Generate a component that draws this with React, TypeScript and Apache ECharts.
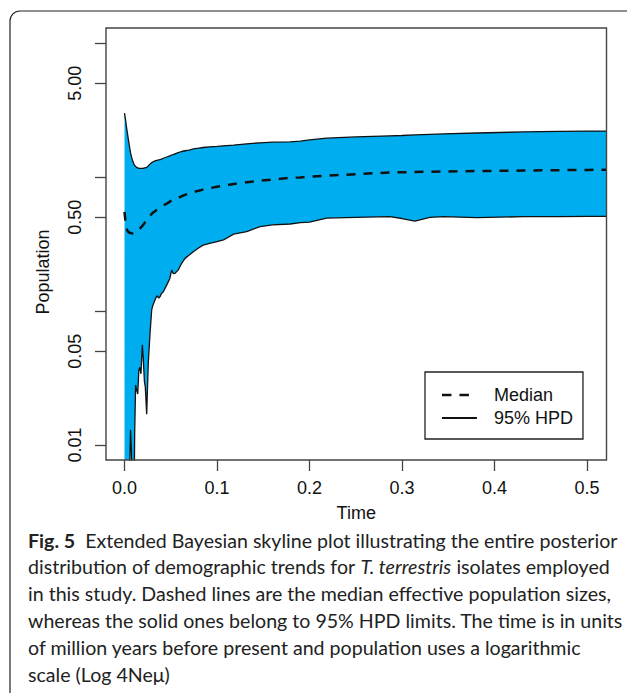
import React, { useEffect, useRef } from "react";
import * as echarts from "echarts";

const time = [
  0.0, 0.001, 0.002, 0.003, 0.004, 0.005, 0.0065, 0.0075, 0.0085, 0.01, 0.011, 0.012, 0.013, 0.0143,
  0.0155, 0.0165, 0.0178, 0.0193, 0.0203, 0.0215, 0.0225, 0.024, 0.0257, 0.0276, 0.0294, 0.031, 0.033,
  0.035, 0.037, 0.0384, 0.04, 0.042, 0.0456, 0.049, 0.051, 0.0528, 0.0546, 0.058, 0.0618, 0.0654, 0.07,
  0.0744, 0.08, 0.085, 0.092, 0.1, 0.107, 0.118, 0.132, 0.1465, 0.16, 0.179, 0.19, 0.2, 0.2186, 0.25,
  0.287, 0.3, 0.314, 0.33, 0.345, 0.381, 0.431, 0.47, 0.5015, 0.5211,
];
const lowerHPD = [
  0.0004, 0.0006, 0.0009, 0.0012, 0.002, 0.004, 0.013, 0.009, 0.003, 0.002, 0.012, 0.028, 0.026, 0.024,
  0.036, 0.038, 0.034, 0.056, 0.044, 0.03, 0.027, 0.017, 0.041, 0.068, 0.102, 0.112, 0.121,
  0.13, 0.125, 0.128, 0.135, 0.139, 0.156, 0.175, 0.202, 0.19, 0.191, 0.202, 0.227, 0.247, 0.262,
  0.277, 0.295, 0.31, 0.32, 0.33, 0.339, 0.375, 0.391, 0.426, 0.44, 0.446, 0.456, 0.461, 0.494, 0.5,
  0.506, 0.49, 0.469, 0.5, 0.506, 0.497, 0.506, 0.507, 0.508, 0.508,
];
const median = [
  0.55, 0.47, 0.42, 0.4, 0.39, 0.385, 0.382, 0.38, 0.379, 0.38, 0.383, 0.387, 0.392, 0.398,
  0.405, 0.411, 0.42, 0.432, 0.44, 0.452, 0.463, 0.477, 0.494, 0.512, 0.53, 0.544, 0.556,
  0.569, 0.582, 0.59, 0.6, 0.613, 0.632, 0.655, 0.67, 0.677, 0.684, 0.7, 0.718, 0.735, 0.755,
  0.772, 0.79, 0.805, 0.825, 0.845, 0.862, 0.886, 0.912, 0.937, 0.957, 0.985, 0.993, 1.005, 1.022, 1.05,
  1.08, 1.085, 1.09, 1.095, 1.1, 1.107, 1.117, 1.125, 1.13, 1.132,
];
const upperHPD = [
  3.0, 2.7, 2.4, 2.15, 1.94, 1.75, 1.52, 1.42, 1.34, 1.26, 1.22, 1.2, 1.18, 1.17,
  1.16, 1.16, 1.16, 1.16, 1.16, 1.17, 1.17, 1.18, 1.21, 1.25, 1.28, 1.3, 1.32,
  1.33, 1.34, 1.35, 1.36, 1.38, 1.41, 1.44, 1.46, 1.47, 1.49, 1.52, 1.55, 1.57, 1.59,
  1.62, 1.64, 1.66, 1.68, 1.69, 1.71, 1.73, 1.77, 1.8, 1.82, 1.83, 1.85, 1.89, 1.95, 1.99,
  2.03, 2.04, 2.06, 2.08, 2.1, 2.13, 2.17, 2.19, 2.2, 2.2,
];

const xTicks = [0, 0.1, 0.2, 0.3, 0.4, 0.5];
const yTicks = [0.01, 0.05, 0.1, 0.5, 1, 5, 10];
const yLabelValues = [0.01, 0.05, 0.5, 5];

const captionLines = [
  "{b|Fig. 5}  Extended Bayesian skyline plot illustrating the entire posterior",
  "distribution of demographic trends for {i|T. terrestris} isolates employed",
  "in this study. Dashed lines are the median effective population sizes,",
  "whereas the solid ones belong to 95% HPD limits. The time is in units",
  "of million years before present and population uses a logarithmic",
  "scale (Log 4Neμ)",
];

const L = Math.log10;

export default function App() {
  const ref = useRef<HTMLDivElement>(null);
  useEffect(() => {
    document.body.style.margin = "0";
    const chart = echarts.init(ref.current!, undefined, { renderer: "svg" });
    const axisFont = "'Liberation Sans', Arial, sans-serif";
    const capFont = "Lato, 'Open Sans', sans-serif";
    const capSize = 19.6;
    const upperLog = upperHPD.map((v) => L(v));
    const lowerLog = lowerHPD.map((v) => L(v));
    const bandData = time.map((t, i) => [t, upperLog[i], lowerLog[i]]);
    const option: any = {
      animation: false,
      backgroundColor: "#fff",
      grid: {
        left: 106,
        right: 20.5,
        top: 28,
        bottom: 233,
        show: true,
        borderColor: "#444",
        borderWidth: 1.4,
        backgroundColor: "transparent",
        z: 10,
      },
      xAxis: {
        type: "value",
        min: -0.02,
        max: 0.5211,
        name: "Time",
        nameLocation: "middle",
        nameGap: 44,
        nameTextStyle: { fontFamily: axisFont, fontSize: 18, color: "#111" },
        axisLine: { show: false, onZero: false },
        splitLine: { show: false },
        axisTick: { show: true, length: 11, customValues: xTicks, lineStyle: { color: "#444", width: 1.3 } },
        axisLabel: {
          customValues: xTicks,
          margin: 19,
          fontFamily: axisFont,
          fontSize: 18,
          color: "#111",
          formatter: (v: number) => v.toFixed(1),
        },
      },
      yAxis: {
        type: "value",
        min: -2.112,
        max: 1.112,
        name: "Population",
        nameLocation: "middle",
        nameGap: 54,
        nameTextStyle: { fontFamily: axisFont, fontSize: 18, color: "#111", padding: [0, 56, 0, 0] },
        axisLine: { show: false, onZero: false },
        splitLine: { show: false },
        axisTick: {
          show: true,
          length: 11,
          customValues: yTicks.map((v) => L(v)),
          lineStyle: { color: "#444", width: 1.3 },
        },
        axisLabel: {
          customValues: yLabelValues.map((v) => L(v)),
          rotate: 90,
          margin: 22,
          fontFamily: axisFont,
          fontSize: 18,
          color: "#111",
          formatter: (v: number) => Math.pow(10, v).toFixed(2),
        },
      },
      legend: {
        data: [
          { name: "Median", lineStyle: { type: [9.5, 8], width: 2.5, color: "#111" } },
          { name: "95% HPD" },
        ],
        orient: "vertical",
        left: 425,
        top: 372,
        itemWidth: 35,
        itemHeight: 14,
        itemGap: 5,
        padding: [14, 10, 12, 15.7],
        borderColor: "#222",
        borderWidth: 1.3,
        backgroundColor: "#fff",
        selectedMode: false,
        itemStyle: { opacity: 0, borderWidth: 0 },
        textStyle: { fontFamily: axisFont, fontSize: 18, color: "#111", padding: [0, 0, 0, 12] },
      },
      series: [
        {
          name: "band",
          type: "custom",
          silent: true,
          data: bandData,
          encode: { x: 0, y: [1, 2] },
          z: 1,
          renderItem: (params: any, api: any) => {
            if (params.dataIndex !== 0) return null;
            const top = bandData.map((d) => api.coord([d[0], d[1]]));
            const bottom = bandData.map((d) => api.coord([d[0], d[2]])).reverse();
            const cs = params.coordSys;
            return {
              type: "polygon",
              shape: { points: top.concat(bottom) },
              style: { fill: "#00AEEF", stroke: "none" },
              clipPath: { type: "rect", shape: { x: cs.x, y: cs.y, width: cs.width, height: cs.height } },
            };
          },
        },
        {
          name: "95% HPD",
          type: "line",
          symbol: "none",
          data: time.map((t, i) => [t, upperLog[i]]),
          itemStyle: { color: "#111" },
          lineStyle: { color: "#111", width: 1.3 },
          z: 3,
        },
        {
          name: "95% HPD",
          type: "line",
          symbol: "none",
          data: time.map((t, i) => [t, lowerLog[i]]),
          itemStyle: { color: "#111" },
          lineStyle: { color: "#111", width: 1.3 },
          z: 3,
        },
        {
          name: "Median",
          type: "line",
          symbol: "none",
          data: time.map((t, i) => [t, L(median[i])]),
          itemStyle: { color: "#111" },
          lineStyle: { color: "#111", width: 2.5, type: [9, 8] },
          z: 4,
        },
      ],
      graphic: [
        {
          type: "rect",
          shape: { x: 10, y: 11, width: 700, height: 720, r: 10 },
          style: { fill: "none", stroke: "#222", lineWidth: 1.2 },
          silent: true,
        },
        ...captionLines.map((line, i) => ({
          type: "text",
          x: 28,
          y: 540 + i * 26.8,
          silent: true,
          style: {
            text: line,
            fontFamily: capFont,
            fontSize: capSize,
            fill: "#222",
            verticalAlign: "middle",
            rich: {
              b: { fontFamily: capFont, fontSize: capSize, fontWeight: "bold", fill: "#222" },
              i: { fontFamily: capFont, fontSize: capSize, fontStyle: "italic", fill: "#222" },
            },
          },
        })),
      ],
    };
    chart.setOption(option);
    return () => chart.dispose();
  }, []);
  return <div ref={ref} style={{ width: 627, height: 693 }} />;
}
